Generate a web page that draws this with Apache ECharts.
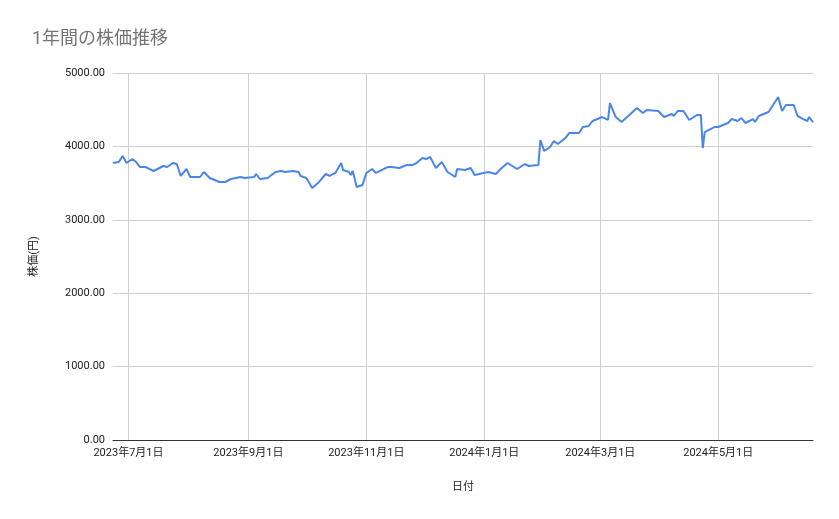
<!DOCTYPE html>
<html>
<head>
<meta charset="utf-8">
<script src="https://cdn.jsdelivr.net/npm/echarts@6/dist/echarts.min.js"></script>
<style>html,body{margin:0;padding:0;background:#fff}#main{width:839px;height:519px}</style>
</head>
<body>
<div id="main"></div>
<script>
// 日付と株価
const dates = [
  '2023-06-23','2023-06-26','2023-06-28','2023-06-30','2023-07-03','2023-07-05','2023-07-07','2023-07-10',
  '2023-07-14','2023-07-19','2023-07-21','2023-07-24','2023-07-26','2023-07-28','2023-07-31','2023-08-02',
  '2023-08-07','2023-08-09','2023-08-12','2023-08-17','2023-08-20','2023-08-23','2023-08-28','2023-08-30',
  '2023-09-04','2023-09-05','2023-09-07','2023-09-11','2023-09-15','2023-09-18','2023-09-20','2023-09-24',
  '2023-09-27','2023-09-28','2023-10-01','2023-10-04','2023-10-07','2023-10-11','2023-10-13','2023-10-16',
  '2023-10-19','2023-10-20','2023-10-23','2023-10-24','2023-10-25','2023-10-27','2023-10-30','2023-11-01',
  '2023-11-04','2023-11-06','2023-11-12','2023-11-14','2023-11-18','2023-11-22','2023-11-25','2023-11-27',
  '2023-11-30','2023-12-02','2023-12-04','2023-12-07','2023-12-10','2023-12-11','2023-12-13','2023-12-17',
  '2023-12-18','2023-12-22','2023-12-25','2023-12-27','2024-01-03','2024-01-07','2024-01-10','2024-01-13',
  '2024-01-18','2024-01-22','2024-01-24','2024-01-29','2024-01-30','2024-02-01','2024-02-04','2024-02-06',
  '2024-02-08','2024-02-12','2024-02-14','2024-02-19','2024-02-21','2024-02-24','2024-02-26','2024-02-27',
  '2024-03-02','2024-03-05','2024-03-06','2024-03-09','2024-03-10','2024-03-12','2024-03-20','2024-03-23',
  '2024-03-25','2024-03-31','2024-04-01','2024-04-03','2024-04-07','2024-04-08','2024-04-10','2024-04-13',
  '2024-04-15','2024-04-16','2024-04-20','2024-04-22','2024-04-23','2024-04-24','2024-04-29','2024-05-01',
  '2024-05-06','2024-05-08','2024-05-11','2024-05-13','2024-05-15','2024-05-19','2024-05-20','2024-05-22',
  '2024-05-27','2024-05-28','2024-06-01','2024-06-03','2024-06-05','2024-06-09','2024-06-11','2024-06-14',
  '2024-06-16','2024-06-17','2024-06-19'
]
const prices = [
  3774,3787,3869,3774,3828,3787,3719,3719,
  3665,3733,3719,3774,3760,3597,3692,3583,
  3583,3651,3570,3515,3515,3556,3583,3570,
  3583,3624,3556,3570,3651,3665,3651,3665,
  3651,3597,3570,3433,3501,3624,3597,3638,
  3774,3678,3651,3610,3665,3447,3474,3638,
  3692,3638,3719,3719,3706,3747,3747,3774,
  3842,3828,3856,3706,3787,3774,3651,3583,
  3692,3678,3706,3610,3651,3624,3706,3774,
  3692,3760,3733,3747,4087,3937,3992,4074,
  4033,4115,4183,4183,4264,4278,4346,4360,
  4400,4360,4591,4400,4414,4332,4523,4455,
  4496,4482,4455,4400,4442,4414,4482,4482,
  4400,4360,4428,4428,3978,4196,4264,4264,
  4319,4373,4346,4387,4319,4373,4332,4414,
  4469,4496,4673,4482,4564,4564,4414,4373,
  4346,4400,4332
]
const tickDates = ['2023-07-01','2023-09-01','2023-11-01','2024-01-01','2024-03-01','2024-05-01']

const chart = echarts.init(document.getElementById('main'))
const font = 'Roboto, "Noto Sans CJK JP", sans-serif'
const toTime = d => new Date(d + 'T00:00:00').getTime()
const fmtDate = d => { const t = new Date(d + 'T00:00:00'); return t.getFullYear() + '年' + (t.getMonth() + 1) + '月' + t.getDate() + '日' }

chart.setOption({
  animation: false,
  textStyle: { fontFamily: font },
  title: {
    text: '1年間の株価推移', left: 27, top: 26,
    textStyle: { fontSize: 18, fontWeight: 'normal', color: '#757575', fontFamily: font }
  },
  grid: { left: 113, right: 26, top: 73, bottom: 79 },
  xAxis: {
    type: 'time',
    min: toTime('2023-06-23'),
    max: toTime('2024-06-19'),
    name: '日付', nameLocation: 'middle', nameGap: 42,
    nameTextStyle: { fontSize: 11, color: '#222' },
    axisLine: { lineStyle: { color: '#333' } },
    axisTick: { show: false },
    splitLine: { show: false },
    axisLabel: { show: false }
  },
  yAxis: {
    type: 'value', min: 0, max: 5000, interval: 1000,
    name: '株価(円)', nameLocation: 'middle', nameGap: 73, nameRotate: 90,
    nameTextStyle: { fontSize: 11, color: '#222' },
    axisLine: { show: false }, axisTick: { show: false },
    axisLabel: { color: '#222', fontSize: 11, formatter: v => v.toFixed(2) },
    splitLine: { lineStyle: { color: '#d0d0d0' } }
  },
  series: [{
    type: 'line',
    data: dates.map((d, i) => [d, prices[i]]),
    showSymbol: false,
    lineStyle: { color: '#4a86e8', width: 2 },
    itemStyle: { color: '#4a86e8' },
    z: 3,
    markLine: {
      silent: true, symbol: 'none', z: 1,
      lineStyle: { color: '#d0d0d0', type: 'solid', width: 1 },
      label: { position: 'start', distance: 8, color: '#222', fontSize: 11, fontFamily: font },
      data: tickDates.map(d => ({ xAxis: toTime(d), label: { formatter: fmtDate(d) } }))
    }
  }]
})
</script>
</body>
</html>
